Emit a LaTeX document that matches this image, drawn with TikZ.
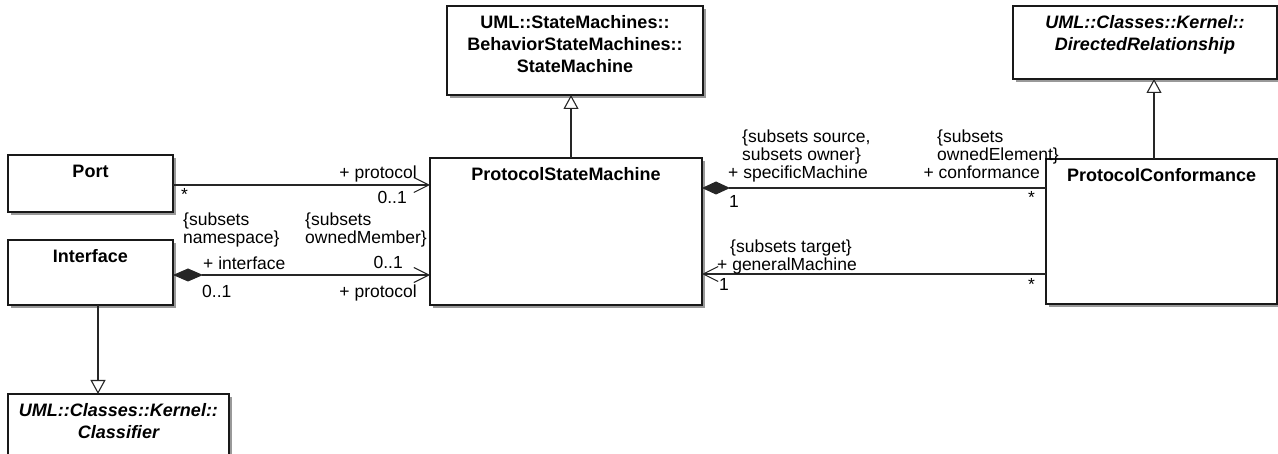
\documentclass[tikz,border=0pt]{standalone}
\usepackage{fontspec}
\setmainfont{Liberation Sans}
\usetikzlibrary{arrows.meta,shadows}
\newcommand{\clsbody}[3]{\parbox[t][#2][t]{#1}{\centering\fontsize{18}{22}\selectfont\bfseries\rule{0pt}{23pt}#3}}
\tikzset{
  cls/.style={draw=black!90, line width=1.3pt, fill=white, anchor=north west, inner sep=0pt, outer sep=0pt,
    drop shadow={shadow xshift=3pt, shadow yshift=-3pt, fill=black!40, opacity=1}},
  assoc/.style={draw=black!85, line width=1.1pt},
  gen/.style={draw=black!85, line width=1.1pt, -{Triangle[length=14pt,width=15pt,fill=white]}},
  opentip/.style={-{Straight Barb[length=15pt,width=15pt]}},
  lbl/.style={inner sep=0pt, font=\fontsize{17.5}{18}\selectfont},
  mlbl/.style={lbl, align=left, anchor=north west},
}
\begin{document}
\begin{tikzpicture}[x=1pt,y=-1pt]
\useasboundingbox (0,0) rectangle (1278,454);
% classes
\node[cls] (sm) at (447,6) {\clsbody{256pt}{89pt}{UML::StateMachines::\\BehaviorStateMachines::\\StateMachine}};
\node[cls] (dr) at (1013,6) {\clsbody{264pt}{73pt}{\itshape UML::Classes::Kernel::\\DirectedRelationship}};
\node[cls] (port) at (8,155) {\clsbody{165pt}{57pt}{Port}};
\node[cls] (iface) at (8,240) {\clsbody{165pt}{65pt}{Interface}};
\node[cls] (cls) at (8,394) {\clsbody{221pt}{70pt}{\itshape UML::Classes::Kernel::\\Classifier}};
\node[cls] (psm) at (430,158) {\clsbody{272pt}{147pt}{ProtocolStateMachine}};
\node[cls] (pc) at (1046,159) {\clsbody{231pt}{145pt}{ProtocolConformance}};
% generalizations
\draw[gen] (psm.north -| 571,0) -- (sm.south -| 571,0);
\draw[gen] (pc.north -| 1154,0) -- (dr.south -| 1154,0);
\draw[gen] (iface.south -| 98,0) -- (cls.north -| 98,0);
% associations
\draw[assoc,opentip] (port.east |- 0,185) -- (psm.west |- 0,185);
\draw[assoc,{Diamond[length=30pt,width=13pt]}-{Straight Barb[length=15pt,width=15pt]}] (iface.east |- 0,275) -- (psm.west |- 0,275);
\draw[assoc,{Diamond[length=28pt,width=13pt]}-] (psm.east |- 0,188) -- (pc.west |- 0,188);
\draw[assoc,opentip] (pc.west |- 0,274) -- (psm.east |- 0,274);
% labels Port -- PSM
\node[lbl, anchor=base east] (l1) at (417,179) {+ protocol};
\node[lbl, anchor=base west] (l2) at (181,201) {*};
\node[lbl, anchor=base east] (l3) at (407,204) {0..1};
% labels Interface -- PSM
\node[mlbl] (l4) at (183,213) {\{subsets\\namespace\}};
\node[mlbl] (l5) at (305,213) {\{subsets\\ownedMember\}};
\node[lbl, anchor=base west] (l6) at (203,270) {+ interface};
\node[lbl, anchor=base east] (l7) at (403,269) {0..1};
\node[lbl, anchor=base west] (l8) at (202,298) {0..1};
\node[lbl, anchor=base east] (l9) at (417,298) {+ protocol};
% labels PSM -- PC (specific)
\node[mlbl] (l10) at (742,130) {\{subsets source,\\subsets owner\}};
\node[lbl, anchor=base west] (l11) at (728,179) {+ specificMachine};
\node[lbl, anchor=base west] (l12) at (729,208) {1};
\node[mlbl] (l13) at (937,130) {\{subsets\\ownedElement\}};
\node[lbl, anchor=base east] (l14) at (1040,179) {+ conformance};
\node[lbl, anchor=base west] (l15) at (1028,204) {*};
% labels PC -- PSM (general)
\node[mlbl] (l16) at (730,240) {\{subsets target\}};
\node[lbl, anchor=base west] (l17) at (717,271) {+ generalMachine};
\node[lbl, anchor=base west] (l18) at (719,291) {1};
\node[lbl, anchor=base west] (l19) at (1028,291) {*};
\end{tikzpicture}
\end{document}
